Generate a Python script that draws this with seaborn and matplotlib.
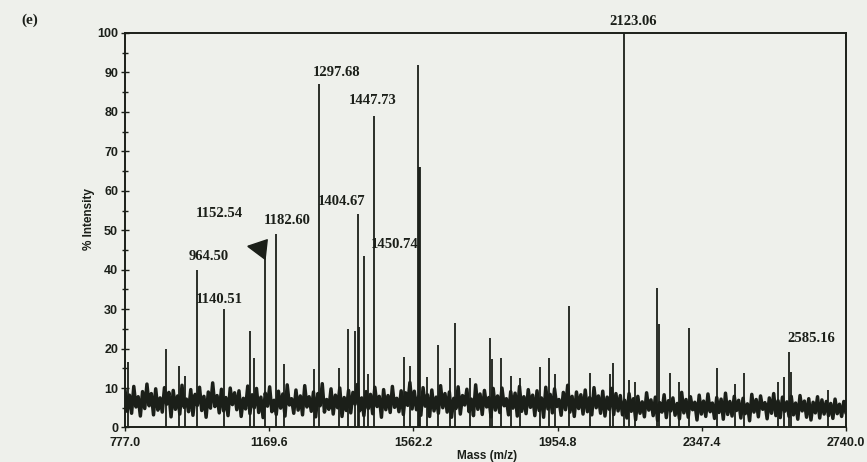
import numpy as np
import pandas as pd
import matplotlib
matplotlib.use("Agg")
import matplotlib.pyplot as plt
import seaborn as sns

# ---------------- data ----------------
mz_min, mz_max = 777.0, 2740.0
x_ticks = [777.0, 1169.6, 1562.2, 1954.8, 2347.4, 2740.0]
y_ticks = [0, 10, 20, 30, 40, 50, 60, 70, 80, 90, 100]

# baseline noise (intensity %, evenly sampled across the mass range)
noise_left = [
    9.5, 4.1, 8.2, 3.6, 10.4, 5.2, 7.8, 2.9, 9.1, 4.8, 11.0, 5.5, 8.6, 3.2, 9.8, 4.4, 7.5, 3.9, 10.1, 5.9,
    8.9, 2.7, 9.4, 4.6, 8.0, 3.4, 10.7, 5.1, 7.2, 4.0, 9.6, 3.1, 8.4, 5.6, 10.2, 4.3, 7.9, 2.6, 9.0, 4.9,
    11.3, 5.3, 8.1, 3.7, 9.7, 4.2, 7.6, 3.0, 10.0, 5.8, 8.8, 4.5, 9.3, 2.8, 7.4, 4.7, 10.5, 3.5, 8.3, 5.0,
    9.9, 3.8, 7.7, 2.5, 8.7, 5.4, 10.3, 4.0, 6.9, 3.3, 9.2, 4.9, 8.5, 2.9, 10.8, 5.7, 7.3, 3.6, 9.5, 4.4,
    8.0, 3.2, 10.6, 5.2, 7.8, 4.1, 9.0, 2.7, 8.6, 5.5, 11.1, 3.9, 7.1, 4.6, 9.8, 3.4, 8.2, 5.0, 10.0, 2.8,
    7.6, 4.3, 9.4, 3.7, 8.9, 5.9, 10.9, 4.2, 7.5, 3.0, 9.1, 4.8, 8.4, 3.5, 10.2, 5.3, 7.9, 2.6, 9.6, 4.5,
    8.1, 3.8, 10.4, 5.1, 7.4, 4.0, 9.3, 3.3, 8.8, 5.6, 11.4, 4.7,
]
noise_mid = [
    9.2, 4.5, 7.9, 3.1, 10.1, 5.4, 8.3, 2.8, 9.5, 4.2, 7.7, 3.6, 10.6, 5.0, 8.6, 3.9, 9.0, 2.6, 7.4, 4.8,
    10.3, 3.4, 8.1, 5.7, 9.7, 4.0, 7.2, 3.0, 10.8, 4.6, 8.5, 3.3, 9.4, 5.2, 7.6, 2.7, 9.9, 4.4, 8.0, 3.8,
    10.0, 5.5, 7.3, 3.2, 9.1, 4.9, 8.7, 2.9, 10.4, 4.1, 7.8, 3.5, 9.6, 5.1, 8.2, 3.0, 9.3, 4.3, 7.5, 2.6,
    10.2, 4.7, 8.4, 3.7, 9.8, 5.3, 7.1, 3.1, 8.9, 4.5, 10.7, 3.9, 7.9, 2.8, 9.0, 4.8, 8.3, 3.4, 9.5, 4.0,
    7.6, 3.2, 10.1, 5.0, 8.0, 3.6, 9.2, 2.9, 7.7, 4.6, 9.9, 3.3, 8.6, 4.2,
]
noise_right = [
    8.1, 3.2, 6.9, 2.4, 8.6, 4.1, 7.3, 2.0, 7.9, 3.6, 6.5, 2.7, 8.8, 4.4, 7.0, 3.0, 7.7, 1.8, 6.3, 3.9,
    8.3, 2.5, 6.8, 4.2, 7.5, 3.1, 6.1, 2.2, 8.9, 3.7, 7.1, 2.6, 7.8, 4.5, 6.4, 1.9, 8.2, 3.4, 6.7, 2.8,
    8.5, 4.0, 6.2, 2.3, 7.6, 3.8, 7.2, 2.1, 8.7, 3.3, 6.6, 2.9, 7.9, 4.3, 6.9, 2.4, 7.4, 3.5, 6.0, 1.7,
    8.4, 3.9, 7.1, 2.7, 8.0, 4.6, 6.3, 2.2, 7.5, 3.6, 8.6, 3.0, 6.8, 2.5, 7.7, 4.1, 6.5, 2.8, 7.9, 3.2,
    6.2, 2.1, 8.1, 4.2, 6.7, 2.6, 7.3, 1.9, 6.4, 3.7, 7.8, 2.4, 7.0, 3.4, 6.6, 3.0, 6.1, 2.3, 7.2, 3.5,
    5.9, 2.8, 6.6, 3.6,
]

# peaks (m/z position, % intensity)
peak_mz = [785, 889, 924, 940, 973, 1047, 1117, 1128, 1158, 1188, 1210, 1292, 1305,
           1360, 1384, 1403, 1410, 1414, 1428, 1439, 1455, 1537, 1553, 1575, 1577, 1579,
           1599, 1629, 1662, 1676, 1715, 1771, 1776, 1801, 1828, 1853, 1907, 1932, 1948,
           1986, 2043, 2098, 2106, 2135, 2150, 2166, 2226, 2231, 2261, 2286, 2313, 2389,
           2438, 2463, 2555, 2572, 2585, 2591, 2691]
peak_int = [16.5, 20.0, 15.5, 13.0, 40.0, 30.0, 24.5, 17.5, 45.0, 49.0, 16.0, 14.8, 87.0,
            15.0, 25.0, 24.5, 54.0, 25.5, 43.4, 13.5, 79.0, 17.8, 15.5, 92.0, 66.0, 66.0,
            12.7, 20.8, 15.0, 26.4, 12.5, 22.8, 17.4, 17.5, 13.0, 12.5, 15.4, 17.5, 13.5,
            30.8, 13.7, 13.5, 16.4, 100.0, 12.0, 11.5, 35.3, 26.2, 13.7, 11.5, 25.2, 15.0,
            11.0, 13.9, 11.5, 12.9, 19.2, 14.0, 9.5]

# peak annotations: text, label position (m/z, intensity)
label_text = ["1297.68", "1447.73", "1404.67", "1152.54", "1182.60", "964.50",
              "1140.51", "1450.74", "2123.06", "2585.16"]
label_mz = [1354, 1452, 1368, 1033, 1218, 1006, 1033, 1510, 2160, 2645]
label_int = [90.1, 83.0, 57.4, 54.3, 52.5, 43.4, 32.5, 46.4, 102.8, 22.6]

# flag marker (arrow) position
flag_mz, flag_int = 1136, 45.2

# ---------------- drawing ----------------
noise_int = noise_left + noise_mid + noise_right
noise_mz = np.linspace(mz_min, mz_max, len(noise_int))
df_noise = pd.DataFrame({"mz": noise_mz, "intensity": noise_int})
df_peaks = pd.DataFrame({"mz": peak_mz, "intensity": peak_int})

sns.set_style("ticks")
plt.rcParams["font.family"] = ["Liberation Sans", "DejaVu Sans"]

bg = "#eef0eb"
ink = "#1b1f19"

fig = plt.figure(figsize=(8.67, 4.62), dpi=100, facecolor=bg)
ax = fig.add_axes([0.1442, 0.0747, 0.8316, 0.8539])
ax.set_facecolor(bg)

ax.vlines(df_peaks["mz"], 0, df_peaks["intensity"], color=ink, linewidth=1.3, zorder=3)
sns.lineplot(data=df_noise, x="mz", y="intensity", ax=ax, color=ink,
             linewidth=2.5, zorder=4, estimator=None, sort=False)

ax.set_xlim(mz_min, mz_max)
ax.set_ylim(0, 100)
ax.set_xticks(x_ticks)
ax.set_xticklabels([f"{v:.1f}" for v in x_ticks])
ax.set_yticks(y_ticks)
ax.set_yticks(np.arange(5, 100, 10), minor=True)
ax.tick_params(axis="both", which="major", labelsize=9, colors=ink, width=1.0)
ax.tick_params(axis="y", which="major", direction="inout", length=6, pad=2)
ax.tick_params(axis="y", which="minor", direction="inout", length=4, width=1.0, colors=ink)
ax.tick_params(axis="x", which="major", direction="out", length=3, pad=4)
for lab in ax.get_xticklabels() + ax.get_yticklabels():
    lab.set_fontweight("bold")

for sp in ax.spines.values():
    sp.set_visible(True)
    sp.set_linewidth(1.4)
    sp.set_color(ink)

ax.set_xlabel("Mass (m/z)", fontsize=8.5, fontweight="bold", color=ink)
ax.set_ylabel("% Intensity", fontsize=8.5, fontweight="bold", color=ink)
ax.xaxis.set_label_coords(0.502, -0.056)
ax.yaxis.set_label_coords(-0.041, 0.528)

serif = ["Liberation Serif", "DejaVu Serif"]
for t, xm, yi in zip(label_text, label_mz, label_int):
    ax.text(xm, yi, t, ha="center", va="center", fontsize=10.5, fontweight="bold",
            family=serif, color=ink, clip_on=False, zorder=5)

flag = [(-1.0, 0.33), (1.0, 1.0), (0.78, -1.0), (-1.0, 0.33)]
ax.plot([flag_mz], [flag_int], marker=flag, markersize=14, color=ink,
        linestyle="none", zorder=6)

fig.text(30 / 867, 1 - 20 / 462, "(e)", ha="center", va="center", fontsize=11,
         fontweight="bold", family=serif, color=ink)

fig.savefig("out.png", dpi=100, facecolor=bg)
